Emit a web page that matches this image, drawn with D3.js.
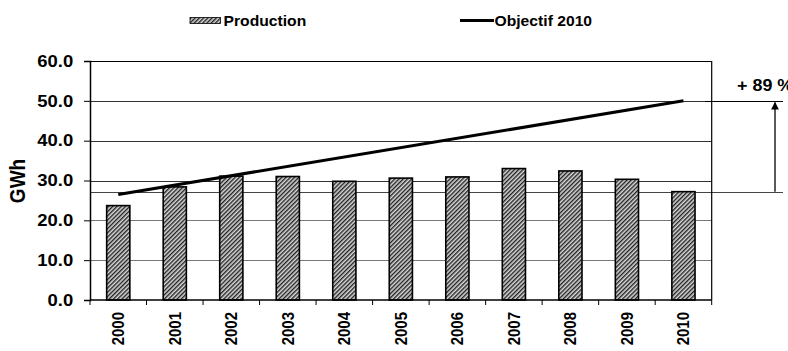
<!DOCTYPE html>
<html>
<head>
<meta charset="utf-8">
<script src="https://cdn.jsdelivr.net/npm/d3@7/dist/d3.min.js"></script>
<style>
  html, body { margin: 0; padding: 0; background: #fff; }
  svg { display: block; font-family: "Liberation Sans", Arial, sans-serif; font-weight: bold; }
</style>
</head>
<body>
<svg id="chart" width="788" height="351"></svg>
<script>
// Annual production (GWh) and the 2010 target trajectory
const years = ["2000","2001","2002","2003","2004","2005","2006","2007","2008","2009","2010"];
const production = [23.7, 28.4, 31.1, 31.0, 29.8, 30.6, 30.9, 33.0, 32.4, 30.3, 27.2];
const objectifYears = ["2000", "2010"];
const objectifValues = [26.5, 50.0];
const yTicks = [0, 10, 20, 30, 40, 50, 60];
const gainLabel = "+ 89 %";

const svg = d3.select("#chart");
const m = { left: 90, right: 711.7, top: 61, bottom: 300 };
const stretch = 1.12; // slightly wide lettering

const x = d3.scaleBand().domain(years).range([m.left, m.right])
  .paddingInner(0.59).paddingOuter(0.295);
const y = d3.scaleLinear().domain([0, 60]).range([m.bottom, m.top]);

// Hatch pattern for the production bars
const defs = svg.append("defs");
const pat = defs.append("pattern")
  .attr("id", "hatch").attr("patternUnits", "userSpaceOnUse")
  .attr("width", 3).attr("height", 3)
  .attr("patternTransform", "rotate(45)");
pat.append("rect").attr("width", 3).attr("height", 3).attr("fill", "#d8d8d8");
pat.append("rect").attr("width", 1.4).attr("height", 3).attr("fill", "#222");

// Horizontal gridlines
svg.append("g").selectAll("line").data(yTicks.filter(d => d > 0)).join("line")
  .attr("x1", m.left).attr("x2", m.right)
  .attr("y1", d => Math.round(y(d)) + 0.5).attr("y2", d => Math.round(y(d)) + 0.5)
  .attr("stroke", d => d >= 30 ? "#333" : "#777").attr("stroke-width", 1);

// Reference line at the 2010 production level, extended to the annotation
const lastProd = production[production.length - 1];
svg.append("line")
  .attr("x1", m.left).attr("x2", 783)
  .attr("y1", Math.round(y(lastProd)) + 0.5).attr("y2", Math.round(y(lastProd)) + 0.5)
  .attr("stroke", "#444").attr("stroke-width", 1);

// Bars
svg.append("g").selectAll("rect").data(years).join("rect")
  .attr("x", d => x(d))
  .attr("y", (d, i) => y(production[i]))
  .attr("width", x.bandwidth())
  .attr("height", (d, i) => y(0) - y(production[i]))
  .attr("fill", "url(#hatch)")
  .attr("stroke", "#000").attr("stroke-width", 1.6);

// Plot frame (top and right edges)
svg.append("path")
  .attr("d", `M${m.left},${m.top + 0.5}H${m.right}V${m.bottom}`)
  .attr("fill", "none").attr("stroke", "#000").attr("stroke-width", 1.2);

// Y axis
const yAxis = svg.append("g").attr("transform", `translate(${m.left},0)`)
  .call(d3.axisLeft(y).tickValues(yTicks).tickFormat(d3.format(".1f")).tickSize(6).tickPadding(9));
yAxis.select(".domain").attr("stroke", "#000").attr("stroke-width", 1.5);
yAxis.selectAll(".tick line").attr("stroke", "#000");
yAxis.selectAll("text").attr("font-size", 16.5).attr("font-weight", "bold")
  .attr("font-family", "Liberation Sans, Arial, sans-serif").attr("fill", "#000")
  .attr("transform", `scale(${stretch},1)`);

// X axis: ticks at category boundaries
const xAxisG = svg.append("g").attr("transform", `translate(0,${m.bottom})`);
xAxisG.append("line").attr("x1", m.left).attr("x2", m.right)
  .attr("stroke", "#000").attr("stroke-width", 1.5);
const bounds = years.map(d => x(d) - x.step() * x.paddingInner() / 2).concat([m.right]);
xAxisG.selectAll("line.tk").data(bounds).join("line").attr("class", "tk")
  .attr("x1", d => d).attr("x2", d => d).attr("y1", 0).attr("y2", 5)
  .attr("stroke", "#000");
xAxisG.selectAll("text").data(years).join("text")
  .attr("transform", d => `translate(${x(d) + x.bandwidth() / 2 + 6},12) rotate(-90) scale(1,${stretch})`)
  .attr("text-anchor", "end")
  .attr("font-size", 15).attr("fill", "#000")
  .text(d => d);

// Y axis title
svg.append("text")
  .attr("transform", `translate(25,181) rotate(-90) scale(1,${stretch})`)
  .attr("text-anchor", "middle").attr("font-size", 19).attr("fill", "#000")
  .text("GWh");

// Objective line
const line = d3.line().x(d => x(d.year) + x.bandwidth() / 2).y(d => y(d.value));
svg.append("path")
  .datum(objectifYears.map((yr, i) => ({ year: yr, value: objectifValues[i] })))
  .attr("d", line)
  .attr("fill", "none").attr("stroke", "#000").attr("stroke-width", 3);

// Gain annotation
const yTarget = Math.round(y(objectifValues[1])) + 0.5;
svg.append("line").attr("x1", 705).attr("x2", 783)
  .attr("y1", yTarget).attr("y2", yTarget)
  .attr("stroke", "#000").attr("stroke-width", 1.2);
defs.append("marker").attr("id", "arrow")
  .attr("viewBox", "0 0 10 10").attr("refX", 9).attr("refY", 5)
  .attr("markerWidth", 6).attr("markerHeight", 6).attr("orient", "auto")
  .append("path").attr("d", "M0,0L10,5L0,10Z").attr("fill", "#000");
svg.append("line").attr("x1", 775).attr("x2", 775)
  .attr("y1", y(lastProd)).attr("y2", yTarget + 1)
  .attr("stroke", "#000").attr("stroke-width", 1.3)
  .attr("marker-end", "url(#arrow)");
svg.append("text")
  .attr("transform", `translate(737,91) scale(${stretch},1)`)
  .attr("font-size", 16).attr("fill", "#000").text(gainLabel);

// Legend
const lg = svg.append("g");
lg.append("rect").attr("x", 190).attr("y", 17.5).attr("width", 30.5).attr("height", 6)
  .attr("fill", "url(#hatch)").attr("stroke", "#000").attr("stroke-width", 0.8);
lg.append("text").attr("transform", `translate(223.5,26) scale(${stretch},1)`)
  .attr("font-size", 14).attr("fill", "#000").text("Production");
lg.append("line").attr("x1", 460).attr("x2", 494).attr("y1", 20.5).attr("y2", 20.5)
  .attr("stroke", "#000").attr("stroke-width", 3);
lg.append("text").attr("transform", `translate(494.5,26) scale(${stretch},1)`)
  .attr("font-size", 14).attr("fill", "#000").text("Objectif 2010");
</script>
</body>
</html>
